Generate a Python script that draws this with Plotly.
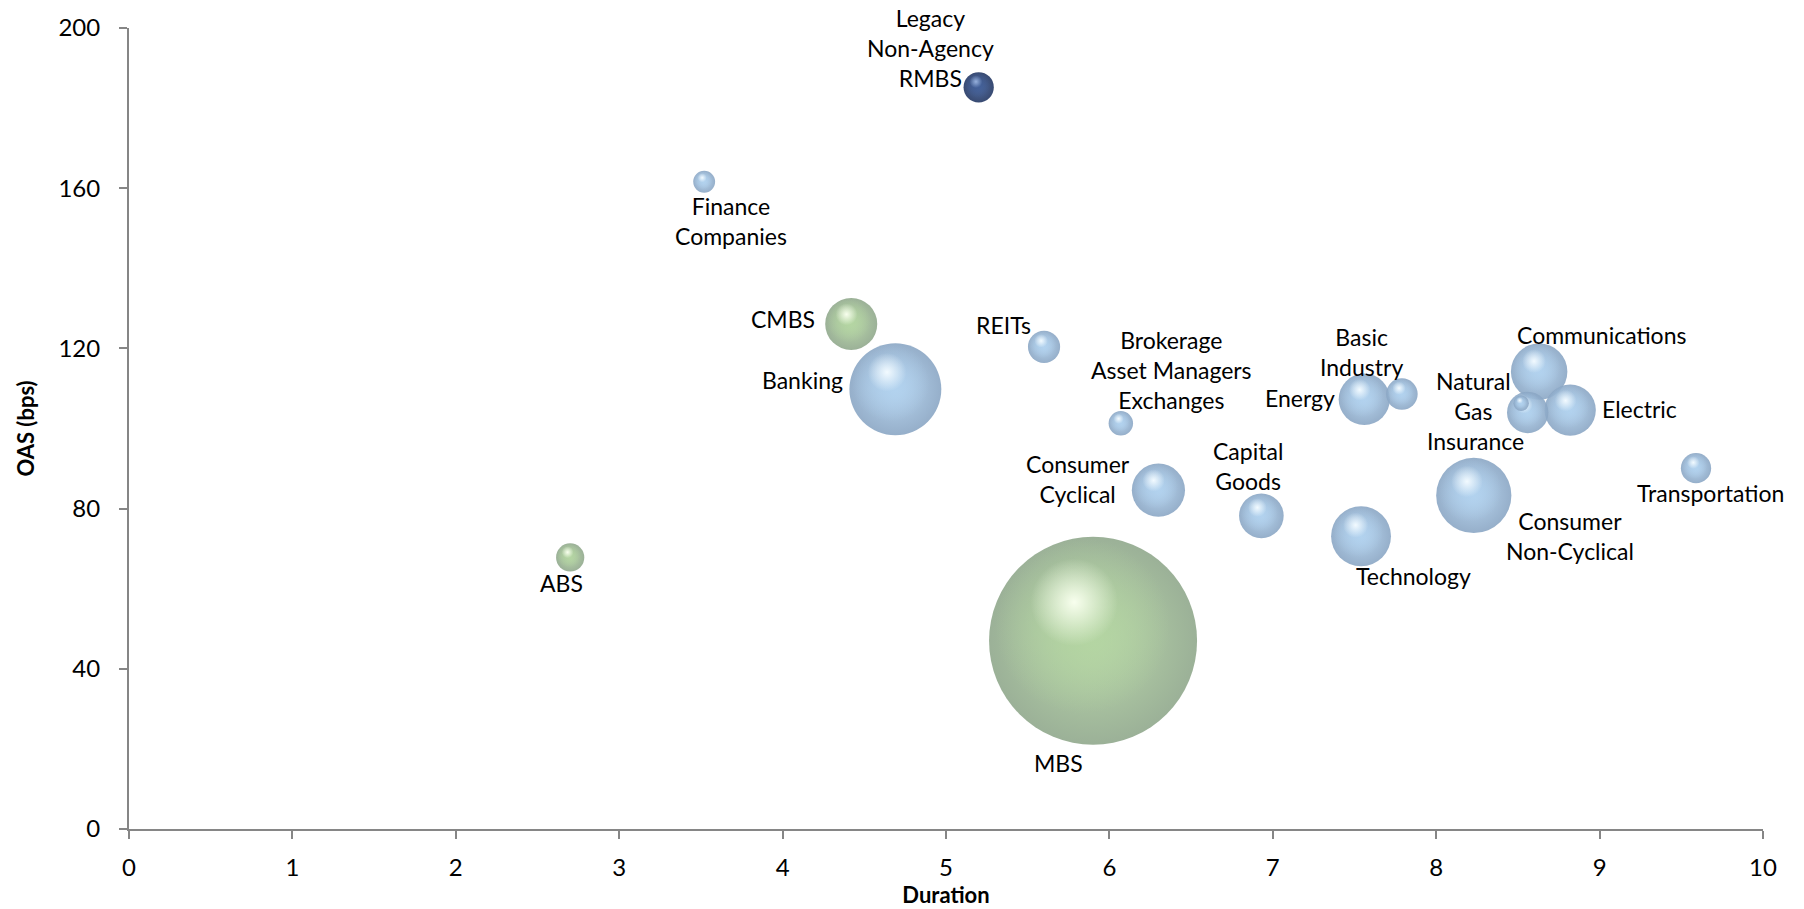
import numpy as np
import plotly.graph_objects as go

# Sector spread vs. duration, bubble area = market value
sectors = [
    "Legacy<br>Non-Agency<br>RMBS", "Finance<br>Companies", "CMBS", "Banking", "REITs",
    "Brokerage<br>Asset Managers<br>Exchanges", "Consumer<br>Cyclical", "Capital<br>Goods",
    "Energy", "Basic<br>Industry", "Technology", "Consumer<br>Non-Cyclical",
    "Communications", "Natural<br>Gas", "Insurance", "Electric", "Transportation",
    "MBS", "ABS",
]
duration = [5.20, 3.52, 4.42, 4.69, 5.60, 6.07, 6.30, 6.93, 7.56, 7.79, 7.54, 8.23,
            8.63, 8.52, 8.56, 8.82, 9.59, 5.90, 2.70]
oas_bps = [185.2, 161.6, 126.1, 109.8, 120.4, 101.3, 84.6, 78.2, 107.3, 108.6, 73.1, 83.3,
           114.2, 106.3, 104.0, 104.6, 90.1, 47.0, 67.8]
market_value = [2.3, 1.2, 6.8, 21.2, 2.6, 1.5, 7.1, 5.0, 6.6, 2.5, 9.0, 14.2,
                8.0, 0.6, 4.3, 6.6, 2.3, 108.6, 2.0]
group = ["legacy", "corp", "securitized", "corp", "corp", "corp", "corp", "corp",
         "corp", "corp", "corp", "corp", "corp", "corp", "corp", "corp", "corp",
         "securitized", "securitized"]

# label placement: (dx px, dy px downward, anchor)
label_pos = [
    (-48, -39, "center"), (27, 39, "center"), (-34, -5, "right"), (-50, -9, "right"),
    (-11, -22, "right"), (51, -53, "center"), (-26, -11, "right"), (-13, -50, "center"),
    (-27, -1, "right"), (-40, -42, "center"), (52, 40, "center"), (96, 41, "center"),
    (62, -37, "center"), (-48, -7, "center"), (-52, 29, "center"), (30, -1, "left"),
    (14, 25, "center"), (-35, 122, "center"), (-9, 26, "center"),
]

palette = {
    "corp": dict(body=(176, 209, 238), edge=(138, 166, 196), hl=(242, 250, 255)),
    "securitized": dict(body=(178, 212, 160), edge=(144, 168, 140), hl=(248, 255, 238)),
    "legacy": dict(body=(62, 92, 150), edge=(34, 54, 98), hl=(150, 176, 220)),
}

W, H = 1804, 909
ML, MR, MT, MB = 129, 41, 28, 80
X_RANGE, Y_RANGE = (0, 10), (0, 200)
px_x = (W - ML - MR) / (X_RANGE[1] - X_RANGE[0])
px_y = (H - MT - MB) / (Y_RANGE[1] - Y_RANGE[0])
D_MAX = 208.0

mv = np.array(market_value, dtype=float)
diam = D_MAX * np.sqrt(mv / mv.max())


def rgba(c, a):
    return f"rgba({c[0]},{c[1]},{c[2]},{a})"


fig = go.Figure()
order = np.argsort(-diam)
for i in order:
    c = palette[group[i]]
    d = float(diam[i])
    r = d / 2
    x, y = duration[i], oas_bps[i]
    # sphere body
    fig.add_trace(go.Scatter(
        x=[x], y=[y], mode="markers",
        marker=dict(size=d, color=rgba(c["edge"], 1), opacity=0.9,
                    gradient=dict(type="radial", color=rgba(c["body"], 1)),
                    line=dict(width=0)),
        name=sectors[i].replace("<br>", " "),
        hovertemplate="%{x:.2f} yrs, %{y:.0f} bps<extra>" + sectors[i].replace("<br>", " ") + "</extra>",
    ))
    # soft body fill shifted up-left, leaves the lower-right shaded
    fig.add_trace(go.Scatter(
        x=[x - 0.10 * r / px_x], y=[y + 0.14 * r / px_y], mode="markers",
        marker=dict(size=d * 0.84, color=rgba(c["body"], 0),
                    gradient=dict(type="radial", color=rgba(c["body"], 0.95)),
                    line=dict(width=0)),
        hoverinfo="skip",
    ))
    # specular highlight
    fig.add_trace(go.Scatter(
        x=[x - 0.18 * r / px_x], y=[y + 0.37 * r / px_y], mode="markers",
        marker=dict(size=d * 0.42, color=rgba(c["hl"], 0),
                    gradient=dict(type="radial", color=rgba(c["hl"], 1.0)),
                    line=dict(width=0)),
        hoverinfo="skip",
    ))

for i, name in enumerate(sectors):
    dx, dy, anchor = label_pos[i]
    fig.add_annotation(
        x=duration[i], y=oas_bps[i], text=name, showarrow=False,
        xanchor=anchor, yanchor="middle", align="center",
        xshift=dx, yshift=-dy,
        font=dict(family="Lato", size=23, color="#000000"),
    )

axis_common = dict(
    showgrid=False, zeroline=False, showline=True, linecolor="#868686", linewidth=2,
    ticks="outside", ticklen=8, tickwidth=2, tickcolor="#868686",
    tickfont=dict(family="Lato", size=24, color="#000000"),
    mirror=False, automargin=False,
)

fig.update_layout(
    width=W, height=H,
    margin=dict(l=ML, r=MR, t=MT, b=MB),
    paper_bgcolor="white", plot_bgcolor="white",
    showlegend=False,
    xaxis=dict(range=list(X_RANGE), dtick=1, ticklabelstandoff=8,
               title=dict(text="Duration", standoff=6,
                          font=dict(family="Lato", size=22, color="#000000", weight="bold")),
               **axis_common),
    yaxis=dict(range=list(Y_RANGE), dtick=40, ticklabelstandoff=14,
               title=dict(text="OAS (bps)", standoff=18,
                          font=dict(family="Lato", size=22, color="#000000", weight="bold")),
               **axis_common),
)

fig.write_html("out.html")
